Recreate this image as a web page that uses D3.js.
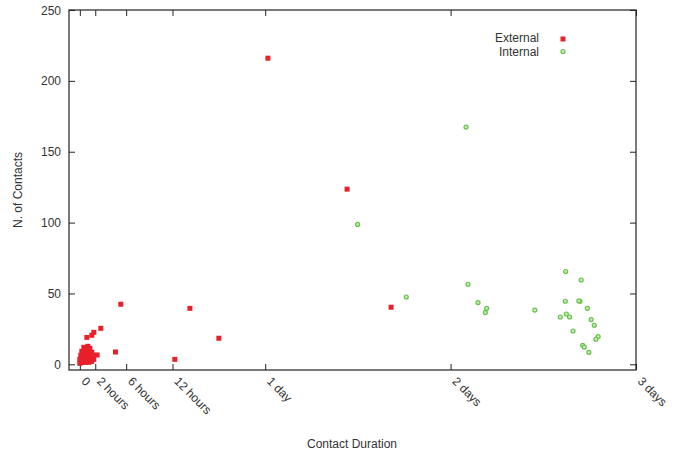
<!DOCTYPE html>
<html>
<head>
<meta charset="utf-8">
<script src="https://cdn.jsdelivr.net/npm/d3@7"></script>
<style>
  body { margin: 0; background: #fff; }
  svg { display: block; font-family: "Liberation Sans", Arial, sans-serif; }
  .lbl { fill: #333; font-size: 12px; }
</style>
</head>
<body>
<svg id="chart" width="686" height="457"></svg>
<script>
// durations in hours, number of contacts
const externalPts = [
  [0.13, 1.4], [0.39, 1.4], [0.78, 1.4], [1.17, 1.4], [1.55, 2.1], [0, 0.7],
  [0, 3.5], [0.52, 3.5], [1.04, 4.2], [1.42, 4.2], [1.81, 3.5], [0.26, 5],
  [0.91, 5.6], [0.13, 6.4], [0.65, 6.4], [1.17, 7.1], [1.68, 6.4], [1.55, 8.5],
  [0.26, 9.2], [0.78, 9.2], [1.3, 9.2], [0.78, 10.6], [1.3, 11.3], [0.52, 12],
  [1.04, 12.7], [2.24, 6.6], [0.91, 19], [1.55, 20.5], [1.81, 22.6], [2.72, 25.4],
  [4.62, 8.7], [5.31, 42.4], [12.3, 3.5], [14.25, 39.5], [18.0, 18.4],
  [24.35, 216], [34.6, 123.6], [40.3, 40.3]
];
const internalPts = [
  [35.96, 98.7], [42.26, 47.5], [50.0, 167.4], [50.25, 56.5], [51.55, 43.6],
  [52.67, 39.5], [52.49, 36.5], [58.9, 38.3], [62.9, 65.5], [64.9, 59.5],
  [62.85, 44.5], [64.75, 44.5], [64.6, 44.8], [65.7, 39.5], [62.2, 33.4],
  [62.98, 35.5], [63.4, 33.4], [66.2, 31.6], [66.6, 27.5], [63.85, 23.5],
  [67.1, 19.6], [66.8, 17.7], [65.1, 13.4], [65.3, 12.2], [65.9, 8.5]
];
const xTickVals = [0, 2, 6, 12, 24, 48, 72];
const xTickLabels = ["0", "2 hours", "6 hours", "12 hours", "1 day", "2 days", "3 days"];
const yTickVals = [0, 50, 100, 150, 200, 250];

const svg = d3.select('#chart');
const L = 69, R = 636, T = 10, B = 370;

const x = d3.scaleLinear().domain([-1.4, 72]).range([L, R]);
const y = d3.scaleLinear().domain([-4, 250]).range([B, T]);

const red = '#e8202a', green = '#66c24a', axisCol = '#222';

// mirrored inward ticks
const tickLen = 6;
const gAx = svg.append('g');
gAx.append('g').attr('transform', `translate(0,${B})`)
  .call(d3.axisBottom(x).tickValues(xTickVals).tickSizeInner(-tickLen).tickSizeOuter(0).tickFormat(''));
gAx.append('g').attr('transform', `translate(0,${T})`)
  .call(d3.axisTop(x).tickValues(xTickVals).tickSizeInner(-tickLen).tickSizeOuter(0).tickFormat(''));
gAx.append('g').attr('transform', `translate(${L},0)`)
  .call(d3.axisLeft(y).tickValues(yTickVals).tickSizeInner(-tickLen).tickSizeOuter(0).tickFormat(''));
gAx.append('g').attr('transform', `translate(${R},0)`)
  .call(d3.axisRight(y).tickValues(yTickVals).tickSizeInner(-tickLen).tickSizeOuter(0).tickFormat(''));
gAx.selectAll('.domain').remove();
gAx.selectAll('line').attr('stroke', axisCol).attr('stroke-width', 1);

svg.append('rect').attr('x', L).attr('y', T).attr('width', R - L).attr('height', B - T)
  .attr('fill', 'none').attr('stroke', axisCol).attr('stroke-width', 1.2);

// y tick labels
svg.selectAll('text.ytl').data(yTickVals).enter().append('text')
  .attr('class', 'lbl ytl').attr('x', L - 8).attr('y', d => y(d) + 4.5)
  .attr('text-anchor', 'end').text(d => d);

// x tick labels, rotated
svg.selectAll('text.xtl').data(xTickVals).enter().append('text')
  .attr('class', 'lbl xtl')
  .attr('transform', d => `translate(${x(d) + 1},${B + 12}) rotate(45)`)
  .text((d, i) => xTickLabels[i]);

svg.append('text').attr('class', 'lbl').attr('x', 352).attr('y', 448)
  .attr('text-anchor', 'middle').text('Contact Duration');
svg.append('text').attr('class', 'lbl')
  .attr('transform', 'translate(22,190) rotate(-90)')
  .attr('text-anchor', 'middle').text('N. of Contacts');

// points
const plot = svg.append('g');
plot.selectAll('rect.ext').data(externalPts).enter().append('rect')
  .attr('class', 'ext')
  .attr('x', d => x(d[0]) - 2.5).attr('y', d => y(d[1]) - 2.5)
  .attr('width', 5).attr('height', 5).attr('fill', red);
plot.selectAll('circle.int').data(internalPts).enter().append('circle')
  .attr('class', 'int')
  .attr('cx', d => x(d[0])).attr('cy', d => y(d[1])).attr('r', 2)
  .attr('fill', '#c9eab8').attr('stroke', green).attr('stroke-width', 1.2);

// legend
const legend = svg.append('g');
legend.append('text').attr('class', 'lbl').attr('x', 539).attr('y', 42)
  .attr('text-anchor', 'end').text('External');
legend.append('rect').attr('x', 560.5).attr('y', 36.5).attr('width', 5).attr('height', 5).attr('fill', red);
legend.append('text').attr('class', 'lbl').attr('x', 539).attr('y', 56)
  .attr('text-anchor', 'end').text('Internal');
legend.append('circle').attr('cx', 563).attr('cy', 51.5).attr('r', 2)
  .attr('fill', '#c9eab8').attr('stroke', green).attr('stroke-width', 1.2);
</script>
</body>
</html>
